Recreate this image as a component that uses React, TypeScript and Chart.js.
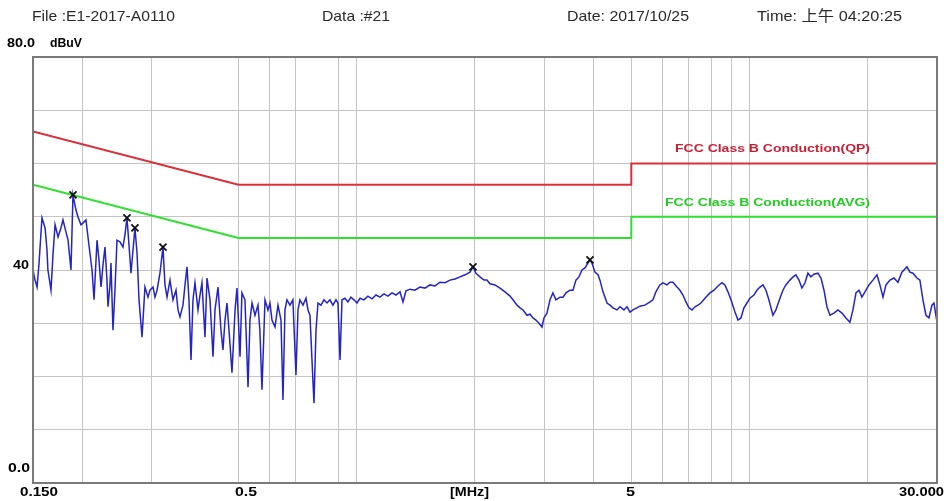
import React, { useEffect, useRef } from 'react';
import { Chart, registerables } from 'chart.js';

Chart.register(...registerables);

// Measured trace (MHz, dBuV)
const freqs = [
  0.150, 0.1518, 0.1536, 0.1553, 0.1581, 0.1610, 0.1628, 0.1637, 0.1667, 0.1686,
  0.1707, 0.1737, 0.1767, 0.1788, 0.1820, 0.1842, 0.1874, 0.1896, 0.1929, 0.1952,
  0.1987, 0.2010, 0.2046, 0.2082, 0.2120, 0.2145, 0.2183, 0.2208, 0.2235, 0.2261,
  0.2287, 0.2314, 0.2328, 0.2355, 0.2369, 0.2397, 0.2425, 0.2454, 0.2497, 0.2541,
  0.2571, 0.2602, 0.2633, 0.2664, 0.2696, 0.2726, 0.2760, 0.2792, 0.2842, 0.2891,
  0.2943, 0.2977, 0.3031, 0.3066, 0.3103, 0.3157, 0.3213, 0.3251, 0.3290, 0.3348,
  0.3407, 0.3468, 0.3509, 0.3550, 0.3613, 0.3656, 0.3699, 0.3742, 0.3787, 0.3831,
  0.3876, 0.3945, 0.3992, 0.4038, 0.4110, 0.4159, 0.4233, 0.4308, 0.4359, 0.4436,
  0.4514, 0.4567, 0.4622, 0.4676, 0.4731, 0.4815, 0.4902, 0.4958, 0.5047, 0.5104,
  0.5195, 0.5290, 0.5350, 0.5415, 0.5510, 0.5608, 0.5670, 0.5740, 0.5843, 0.5946,
  0.6015, 0.6087, 0.6195, 0.6305, 0.6417, 0.6492, 0.6568, 0.6646, 0.6765, 0.6881,
  0.7006, 0.7089, 0.7170, 0.7300, 0.7430, 0.7517, 0.7605, 0.7695, 0.7786, 0.7878,
  0.7970, 0.8112, 0.8255, 0.8402, 0.8550, 0.8700, 0.8856, 0.8961, 0.9070, 0.9174,
  0.9336, 0.9500, 0.9669, 0.9841, 1.0016, 1.020, 1.0437, 1.068, 1.094, 1.120,
  1.146, 1.1735, 1.201, 1.2297, 1.2588, 1.289, 1.3118, 1.335, 1.3667, 1.407,
  1.449, 1.492, 1.5365, 1.582, 1.629, 1.678, 1.728, 1.780, 1.832, 1.887,
  1.943, 1.977, 2.012, 2.060, 2.109, 2.145, 2.184, 2.249, 2.316, 2.385,
  2.456, 2.499, 2.559, 2.604, 2.651, 2.713, 2.761, 2.810, 2.859, 2.911,
  2.963, 2.997, 3.050, 3.105, 3.159, 3.215, 3.292, 3.351, 3.410, 3.490,
  3.552, 3.615, 3.680, 3.744, 3.811, 3.879, 3.924, 3.970, 4.041, 4.113,
  4.161, 4.236, 4.337, 4.413, 4.491, 4.597, 4.679, 4.790, 4.875, 4.961,
  5.049, 5.168, 5.26, 5.418, 5.579, 5.676, 5.777, 5.91, 6.020, 6.163,
  6.273, 6.384, 6.536, 6.65, 6.768, 6.888, 7.011, 7.135, 7.262, 7.391,
  7.522, 7.700, 7.929, 8.118, 8.310, 8.506, 8.656, 8.812, 8.968, 9.181,
  9.343, 9.508, 9.676, 9.849, 10.02, 10.26, 10.44, 10.63, 10.82, 11.01,
  11.20, 11.47, 11.67, 11.95, 12.16, 12.37, 12.67, 12.90, 13.12, 13.36,
  13.59, 13.84, 14.08, 14.33, 14.58, 14.93, 15.20, 15.47, 15.74, 16.02,
  16.40, 16.78, 17.19, 17.59, 18.01, 18.33, 18.66, 18.99, 19.32, 19.67,
  20.13, 20.61, 21.10, 21.47, 21.86, 22.25, 22.77, 23.31, 23.86, 24.42,
  25.16, 25.60, 26.06, 26.67, 27.14, 27.63, 28.12, 28.62, 29.12, 29.47,
  30.0,
];

const levels = [
  40.0, 38.1, 36.8, 41.0, 49.8, 47.9, 43.8, 40.0, 36.2, 42.8,
  48.5, 46.2, 47.9, 49.4, 47.1, 45.6, 40.0, 54.1, 51.3, 50.0,
  48.5, 48.8, 49.4, 44.7, 40.0, 34.4, 45.6, 41.9, 36.8, 41.0,
  44.3, 38.1, 33.1, 37.2, 41.3, 28.7, 36.2, 45.6, 45.3, 44.3,
  46.6, 49.8, 44.7, 39.4, 43.8, 47.9, 43.2, 34.4, 27.4, 36.8,
  34.9, 36.2, 36.8, 34.9, 36.2, 39.4, 44.3, 37.2, 34.9, 38.1,
  34.4, 36.2, 32.5, 31.2, 33.4, 37.2, 40.6, 34.4, 23.1, 34.4,
  37.6, 32.5, 35.3, 37.6, 27.4, 38.5, 34.4, 23.7, 32.5, 36.8,
  28.7, 25.0, 30.6, 33.8, 28.7, 20.7, 32.5, 36.6, 23.7, 35.7,
  34.4, 18.0, 30.6, 33.8, 31.5, 33.4, 28.7, 17.5, 34.4, 32.5,
  33.8, 30.6, 29.3, 33.4, 30.6, 15.6, 32.5, 34.4, 33.4, 34.4,
  20.3, 32.5, 34.4, 33.4, 34.7, 32.5, 31.5, 23.1, 15.0, 28.7,
  33.8, 33.4, 34.4, 33.8, 34.4, 33.4, 34.4, 33.8, 23.1, 34.4,
  34.7, 34.0, 34.9, 34.4, 33.8, 34.7, 34.4, 35.1, 34.6, 35.3,
  34.9, 35.5, 35.1, 35.7, 35.3, 35.9, 34.0, 36.1, 36.4, 36.2,
  36.8, 36.6, 37.2, 37.0, 37.7, 37.6, 38.1, 38.3, 38.7, 39.1,
  39.6, 40.6, 39.4, 38.7, 38.1, 38.1, 37.4, 37.2, 36.6, 35.9,
  35.1, 34.4, 33.4, 32.9, 32.5, 31.5, 31.7, 31.0, 30.6, 30.0,
  29.3, 31.0, 31.9, 34.4, 35.7, 34.4, 34.9, 34.9, 35.7, 36.2,
  36.2, 38.1, 38.7, 40.0, 40.4, 41.3, 41.9, 41.3, 39.6, 39.1,
  38.1, 35.9, 33.8, 33.4, 32.9, 32.5, 33.1, 32.5, 33.1, 32.1,
  32.5, 32.9, 33.2, 33.4, 34.0, 34.4, 35.9, 37.2, 37.6, 37.2,
  37.7, 37.7, 36.8, 36.2, 35.3, 34.0, 32.9, 32.5, 33.1, 33.4,
  33.8, 34.7, 35.7, 36.2, 37.0, 37.6, 37.2, 35.9, 34.4, 32.1,
  30.6, 31.0, 32.9, 33.8, 34.7, 35.3, 36.2, 36.8, 37.2, 36.2,
  34.4, 31.5, 32.5, 34.7, 36.2, 37.2, 38.1, 38.7, 39.1, 38.1,
  36.6, 37.6, 39.4, 38.7, 39.2, 39.4, 38.5, 36.2, 33.1, 31.5,
  31.9, 32.5, 31.9, 31.0, 30.2, 32.5, 35.7, 36.2, 34.9, 35.9,
  37.2, 38.1, 39.1, 37.2, 34.9, 37.2, 38.1, 38.5, 37.7, 39.6,
  40.6, 39.6, 39.4, 38.5, 38.1, 34.4, 31.5, 31.0, 33.4, 33.8,
  30.2,
];

// FCC Class B conducted limits
const qpFreqs = [0.15, 0.5, 5, 5, 30];
const qpLimit = [66, 56, 56, 60, 60];
const avgFreqs = [0.15, 0.5, 5, 5, 30];
const avgLimit = [56, 46, 46, 50, 50];

// Peak markers
const markerFreqs = [0.1896, 0.2602, 0.2726, 0.3213, 1.977, 3.924];
const markerLevels = [54.1, 49.8, 47.9, 44.3, 40.6, 41.9];

// Grid / ticks
const gridFreqs = [0.2, 0.3, 0.5, 0.6, 0.7, 0.9, 1, 2, 3, 4, 5, 6, 7, 8, 9, 10, 20];
const xTickLabels = ['0.150', '0.5', '[MHz]', '5', '30.000'];
const yTickLabels = ['80.0', '40', '0.0'];
const yUnit = 'dBuV';
const headerTexts = ['File :E1-2017-A0110', 'Data :#21', 'Date: 2017/10/25', 'Time: 上午 04:20:25'];
const qpName = 'FCC Class B Conduction(QP)';
const avgName = 'FCC Class B Conduction(AVG)';

const FONT = '"Liberation Sans", Arial, "Noto Sans CJK SC", sans-serif';

function fitText(ctx: CanvasRenderingContext2D, text: string, left: number, cy: number, width: number) {
  const m = ctx.measureText(text).width || 1;
  ctx.save();
  ctx.translate(left, cy);
  ctx.scale(width / m, 1);
  ctx.textAlign = 'left';
  ctx.textBaseline = 'middle';
  ctx.fillText(text, 0, 0);
  ctx.restore();
}

const textPlugin = {
  id: 'emcText',
  afterDraw(chart: any) {
    const ctx: CanvasRenderingContext2D = chart.ctx;
    const a = chart.chartArea;
    ctx.save();
    // frame
    ctx.strokeStyle = '#7a7a7a';
    ctx.lineWidth = 2;
    ctx.strokeRect(a.left, a.top, a.right - a.left, a.bottom - a.top);

    // header
    ctx.fillStyle = '#2a2a2a';
    ctx.font = `15px ${FONT}`;
    const hx = [32, 322, 567, 757];
    const hw = [143, 68, 122, 145];
    headerTexts.forEach((t, i) => fitText(ctx, t, hx[i], 17, hw[i]));

    // axis labels
    ctx.fillStyle = '#000';
    ctx.font = `bold 12px ${FONT}`;
    fitText(ctx, yTickLabels[0], 7, 44, 28);
    fitText(ctx, yUnit, 50, 44, 32);
    fitText(ctx, yTickLabels[1], 13, 266, 16);
    fitText(ctx, yTickLabels[2], 8, 469, 22);

    const xl = [20, 235, 450, 626, 899];
    const xw = [38, 22, 39, 9, 45];
    xTickLabels.forEach((t, i) => fitText(ctx, t, xl[i], 493, xw[i]));

    // limit names
    ctx.font = `bold 11px ${FONT}`;
    ctx.fillStyle = '#cc1f36';
    fitText(ctx, qpName, 675, 149, 195);
    ctx.fillStyle = '#22cc22';
    fitText(ctx, avgName, 665, 203, 205);
    ctx.restore();
  },
};

export default function App() {
  const ref = useRef<HTMLCanvasElement>(null);
  useEffect(() => {
    const canvas = ref.current;
    if (!canvas) return;
    const trace = freqs.map((f, i) => ({ x: f, y: levels[i] }));
    const qp = qpFreqs.map((f, i) => ({ x: f, y: qpLimit[i] }));
    const avg = avgFreqs.map((f, i) => ({ x: f, y: avgLimit[i] }));
    const marks = markerFreqs.map((f, i) => ({ x: f, y: markerLevels[i] }));
    const chart = new Chart(canvas, {
      type: 'line',
      data: {
        datasets: [
          {
            data: marks,
            showLine: false,
            pointStyle: 'crossRot',
            pointRadius: 5,
            borderColor: '#111',
            borderWidth: 1.8,
            order: 0,
          } as any,
          {
            data: qp,
            borderColor: '#d9303a',
            borderWidth: 2,
            pointRadius: 0,
            order: 1,
          },
          {
            data: avg,
            borderColor: '#2fe02f',
            borderWidth: 2,
            pointRadius: 0,
            order: 2,
          },
          {
            data: trace,
            borderColor: '#2424c4',
            borderWidth: 1.5,
            pointRadius: 0,
            tension: 0,
            order: 3,
          },
        ],
      },
      options: {
        responsive: false,
        maintainAspectRatio: false,
        animation: false,
        devicePixelRatio: 1,
        layout: { padding: { left: 33, top: 57, right: 7, bottom: 18 } },
        plugins: { legend: { display: false }, tooltip: { enabled: false }, title: { display: false } },
        scales: {
          x: {
            type: 'logarithmic',
            min: 0.15,
            max: 30,
            afterBuildTicks: (s: any) => {
              s.ticks = gridFreqs.map((v) => ({ value: v }));
            },
            afterFit: (s: any) => {
              s.height = 0;
            },
            ticks: { display: false },
            grid: { color: '#c4c4c4', lineWidth: 1, drawTicks: false },
            border: { display: false },
          },
          y: {
            type: 'linear',
            min: 0,
            max: 80,
            ticks: { display: false, stepSize: 10 },
            afterFit: (s: any) => {
              s.width = 0;
            },
            grid: { color: '#c4c4c4', lineWidth: 1, drawTicks: false },
            border: { display: false },
          },
        },
      },
      plugins: [textPlugin],
    });
    return () => chart.destroy();
  }, []);
  return (
    <div style={{ position: 'absolute', left: 0, top: 0, width: 944, height: 501, background: '#fff' }}>
      <canvas ref={ref} width={944} height={501} style={{ width: 944, height: 501, display: 'block' }} />
    </div>
  );
}
